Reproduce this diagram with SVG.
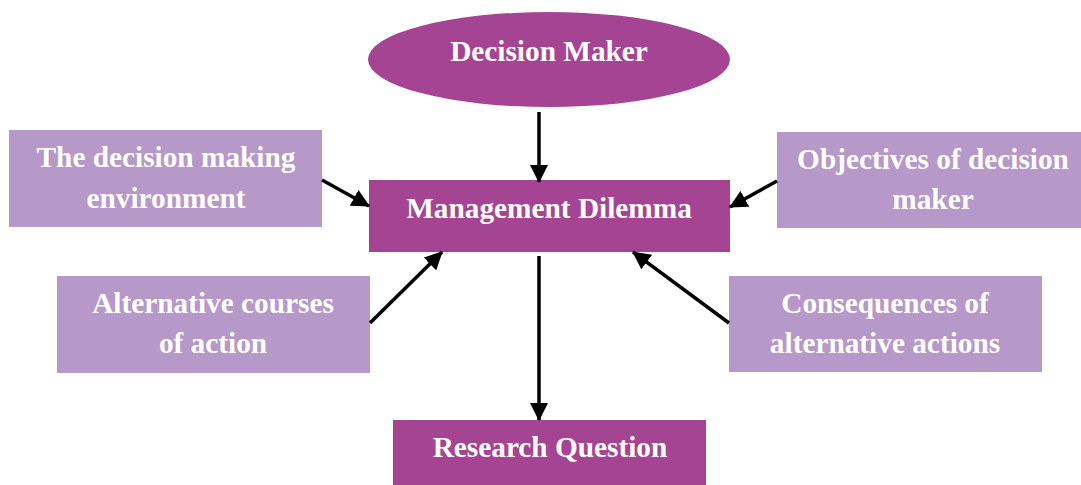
<svg xmlns="http://www.w3.org/2000/svg" width="1081" height="485" viewBox="0 0 1081 485">
<style>
.dark{fill:#A64494}
.light{fill:#B699C8}
text{font-family:"Liberation Serif","Times New Roman",serif;font-weight:bold;font-size:29.3px;fill:#FFFFFF;text-anchor:middle}
.conn line{stroke:#000000;stroke-width:3.5;marker-end:url(#ah)}
</style>
<defs>
<marker id="ah" markerUnits="userSpaceOnUse" markerWidth="18" markerHeight="18" refX="17" refY="9" orient="auto" viewBox="0 0 18 18">
<path d="M0,0 L18,9 L0,18 z" fill="#000000"/>
</marker>
</defs>
<rect width="1081" height="485" fill="#FFFFFF"/>
<g id="decision-maker">
<ellipse class="dark" cx="549" cy="59.5" rx="181" ry="47.5"/>
<text x="549" y="61">Decision Maker</text>
</g>
<g id="management-dilemma">
<rect class="dark" x="369" y="180" width="361" height="72"/>
<text x="549" y="218">Management Dilemma</text>
</g>
<g id="environment">
<rect class="light" x="9" y="130" width="313" height="97"/>
<text x="166" y="167">The decision making</text>
<text x="166" y="208">environment</text>
</g>
<g id="objectives">
<rect class="light" x="777" y="132" width="304" height="96"/>
<text x="933" y="169">Objectives of decision</text>
<text x="933" y="209">maker</text>
</g>
<g id="alternatives">
<rect class="light" x="57" y="276" width="313" height="97"/>
<text x="213" y="313">Alternative courses</text>
<text x="213" y="353">of action</text>
</g>
<g id="consequences">
<rect class="light" x="729" y="276" width="313" height="96"/>
<text x="885" y="313">Consequences of</text>
<text x="885" y="353">alternative actions</text>
</g>
<g id="research-question">
<rect class="dark" x="393" y="420" width="313" height="65"/>
<text x="550" y="457">Research Question</text>
</g>
<g class="conn" id="connectors">
<line x1="539" y1="112" x2="539" y2="182"/>
<line x1="322" y1="180" x2="369" y2="206"/>
<line x1="777" y1="181" x2="730" y2="207"/>
<line x1="370" y1="323" x2="442" y2="252"/>
<line x1="729" y1="323" x2="633" y2="252"/>
<line x1="539" y1="256" x2="539" y2="420"/>
</g>
</svg>
